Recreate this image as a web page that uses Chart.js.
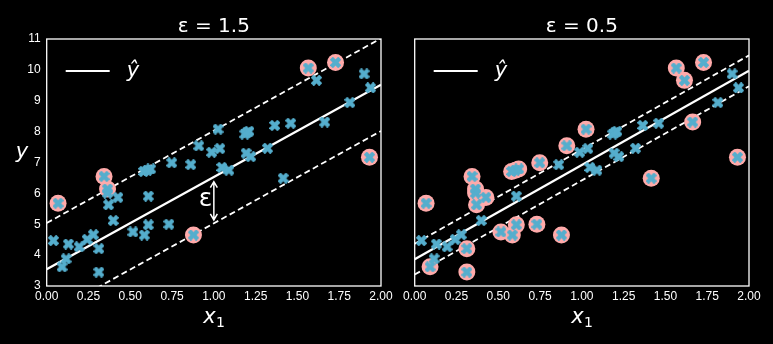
<!DOCTYPE html>
<html>
<head>
<meta charset="utf-8">
<script src="https://cdn.jsdelivr.net/npm/chart.js@4"></script>
<style>
  html, body { margin: 0; padding: 0; background: #000; }
  body { width: 773px; height: 344px; position: relative; overflow: hidden; }
  .panel { position: absolute; top: 0; height: 344px; }
  canvas { display: block; }
</style>
</head>
<body>
<div class="panel" style="left:0;width:400px"><canvas id="left"></canvas></div>
<div class="panel" style="left:386px;width:387px"><canvas id="right"></canvas></div>
<script>
// Training points (same in both panels)
const xs = [0.04, 0.068, 0.092, 0.116, 0.13, 0.194, 0.242, 0.279, 0.312, 0.312,
            0.343, 0.364, 0.364, 0.37, 0.426, 0.398, 0.516, 0.584, 0.608, 0.608,
            0.58, 0.603, 0.622, 0.731, 0.748, 0.862, 0.878, 0.91, 0.987, 1.025,
            1.036, 1.048, 1.09, 1.185, 1.198, 1.21, 1.193, 1.221, 1.321, 1.364,
            1.415, 1.46, 1.565, 1.614, 1.663, 1.728, 1.814, 1.899, 1.937, 1.931];
const ys = [4.47, 5.68, 3.62, 3.88, 4.36, 4.27, 4.51, 4.66, 4.21, 3.45,
            6.55, 6.14, 6.01, 5.63, 5.87, 5.12, 4.75, 4.65, 4.98, 5.91,
            6.71, 6.75, 6.79, 5.0, 6.99, 6.93, 4.65, 7.54, 7.33, 8.08,
            7.45, 6.84, 6.75, 7.92, 7.97, 8.01, 7.3, 7.19, 7.46, 8.2,
            6.49, 8.27, 10.06, 9.66, 8.31, 10.24, 8.94, 9.87, 9.42, 7.17];

// support vectors (indices into xs/ys)
const leftSV = [1, 10, 11, 26, 42, 45, 49];
const rightSV = [1, 2, 8, 9, 10, 11, 12, 13, 14, 16, 17, 18, 20, 21, 22, 23, 24,
                 26, 27, 29, 40, 42, 43, 44, 45, 49];

// model lines, at x = 0 and x = 2
const lineX = [0, 2];
const leftFit = [3.54, 9.52];
const leftUp = [5.04, 11.02];
const leftDown = [2.04, 8.02];
const rightFit = [3.87, 9.97];
const rightUp = [4.37, 10.47];
const rightDown = [3.37, 9.47];

const yTicks = [3, 4, 5, 6, 7, 8, 9, 10, 11];
const xTickStep = 0.25;

const BLUE = '#55aecd';
const PINK = '#ffaaaa';

// filled "X" marker like matplotlib's 'X'
function makeXMarker() {
    const c = document.createElement('canvas');
    c.width = 11; c.height = 11;
    const g = c.getContext('2d');
    g.fillStyle = BLUE;
    g.translate(5.5, 5.5);
    g.rotate(Math.PI / 4);
    g.fillRect(-6, -2.2, 12, 4.4);
    g.fillRect(-2.2, -6, 4.4, 12);
    return c;
}
const xMarker = makeXMarker();

function pts(idx) {
    return idx.map(i => ({ x: xs[i], y: ys[i] }));
}
function line(ysPair) {
    return lineX.map((x, i) => ({ x: x, y: ysPair[i] }));
}

const framePlugin = {
    id: 'frame',
    afterDraw(chart, args, opts) {
        const ctx = chart.ctx;
        const a = chart.chartArea;
        ctx.save();
        ctx.strokeStyle = '#ffffff';
        ctx.lineWidth = 1.3;
        ctx.strokeRect(a.left, a.top, a.right - a.left, a.bottom - a.top);

        // title
        const cx = (a.left + a.right) / 2;
        ctx.fillStyle = '#ffffff';
        ctx.textBaseline = 'alphabetic';
        ctx.textAlign = 'center';
        ctx.font = '20px "DejaVu Sans"';
        ctx.fillText(opts.title, cx, 32);

        // x label: x with subscript 1
        ctx.textAlign = 'left';
        ctx.font = 'italic 21px "DejaVu Sans"';
        const wx = ctx.measureText('x').width;
        ctx.font = '14px "DejaVu Sans"';
        const w1 = ctx.measureText('1').width;
        const x0 = cx - (wx + w1) / 2;
        ctx.font = 'italic 21px "DejaVu Sans"';
        ctx.fillText('x', x0, 323);
        ctx.font = '14px "DejaVu Sans"';
        ctx.fillText('1', x0 + wx + 0.5, 327);

        // y label
        if (opts.ylabel) {
            ctx.textAlign = 'center';
            ctx.font = 'italic 21px "DejaVu Sans"';
            ctx.fillText('y', 22, 158);
        }

        // legend
        ctx.strokeStyle = '#ffffff';
        ctx.lineWidth = 2;
        ctx.beginPath();
        ctx.moveTo(a.left + 19, 71);
        ctx.lineTo(a.left + 63, 71);
        ctx.stroke();
        ctx.textAlign = 'left';
        ctx.font = 'italic 21px "DejaVu Sans"';
        ctx.fillText('\u0177', a.left + 80, 77);

        // epsilon arrow
        if (opts.arrow) {
            const sx = chart.scales.x, sy = chart.scales.y;
            const px = sx.getPixelForValue(opts.arrow.x);
            const top = sy.getPixelForValue(opts.arrow.y1);
            const bot = sy.getPixelForValue(opts.arrow.y2);
            ctx.lineWidth = 1.5;
            ctx.beginPath();
            ctx.moveTo(px, top); ctx.lineTo(px, bot);
            ctx.moveTo(px - 3.5, top + 6); ctx.lineTo(px, top); ctx.lineTo(px + 3.5, top + 6);
            ctx.moveTo(px - 3.5, bot - 6); ctx.lineTo(px, bot); ctx.lineTo(px + 3.5, bot - 6);
            ctx.stroke();
            ctx.textAlign = 'center';
            ctx.textBaseline = 'middle';
            ctx.font = '25px "DejaVu Sans"';
            ctx.fillText('\u03b5', sx.getPixelForValue(opts.arrow.lx), sy.getPixelForValue(opts.arrow.ly));
        }
        ctx.restore();
    }
};

function makeChart(id, sv, fit, up, down, cfg) {
    const tickFont = { family: 'Liberation Sans', size: 12 };
    return new Chart(document.getElementById(id), {
        type: 'scatter',
        data: {
            datasets: [
                { data: pts(xs.map((_, i) => i)), pointStyle: xMarker, pointRadius: 5, pointHoverRadius: 5 },
                { data: pts(sv), pointStyle: 'circle', pointRadius: 8.5, pointHoverRadius: 8.5,
                  backgroundColor: PINK, borderWidth: 0 },
                { data: line(fit), showLine: true, pointRadius: 0, borderColor: '#ffffff', borderWidth: 2.3 },
                { data: line(up), showLine: true, pointRadius: 0, borderColor: '#ffffff', borderWidth: 1.8, borderDash: [6, 3.5] },
                { data: line(down), showLine: true, pointRadius: 0, borderColor: '#ffffff', borderWidth: 1.8, borderDash: [6, 3.5] }
            ]
        },
        options: {
            responsive: false,
            animation: false,
            events: [],
            layout: { padding: { top: 39, left: 0, right: cfg.padRight, bottom: 0 } },
            plugins: {
                legend: { display: false },
                tooltip: { enabled: false },
                frame: cfg.frame
            },
            scales: {
                x: {
                    min: 0, max: 2,
                    grid: { display: false, drawTicks: false },
                    border: { display: false },
                    ticks: {
                        stepSize: xTickStep, autoSkip: false, maxRotation: 0, padding: 3,
                        color: '#ffffff', font: tickFont,
                        callback: v => Number(v).toFixed(2)
                    },
                    afterFit: s => { s.height = 58; }
                },
                y: {
                    min: yTicks[0], max: yTicks[yTicks.length - 1],
                    grid: { display: false, drawTicks: false },
                    border: { display: false },
                    afterBuildTicks: s => { s.ticks = yTicks.map(v => ({ value: v })); },
                    ticks: {
                        display: cfg.yTicks, padding: 6,
                        color: '#ffffff', font: tickFont
                    },
                    afterFit: s => { s.width = cfg.yWidth; }
                }
            }
        },
        plugins: [framePlugin]
    });
}

const lc = document.getElementById('left');
lc.width = 400; lc.height = 344;
const rc = document.getElementById('right');
rc.width = 387; rc.height = 344;

makeChart('left', leftSV, leftFit, leftUp, leftDown, {
    padRight: 19, yWidth: 46.7, yTicks: true,
    frame: { title: '\u03b5 = 1.5', ylabel: true, arrow: { x: 1.0, y1: 6.38, y2: 5.14, lx: 0.95, ly: 5.79 } }
});
makeChart('right', rightSV, rightFit, rightUp, rightDown, {
    padRight: 24, yWidth: 28.7, yTicks: false,
    frame: { title: '\u03b5 = 0.5', ylabel: false, arrow: null }
});
</script>
</body>
</html>
